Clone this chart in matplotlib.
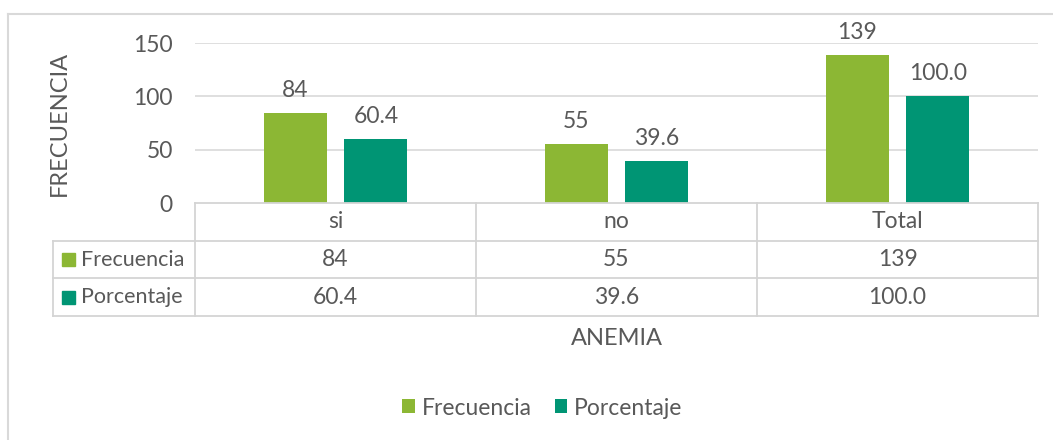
import matplotlib
matplotlib.use("Agg")
import matplotlib.pyplot as plt
from matplotlib.patches import Patch, Rectangle
from matplotlib.lines import Line2D

# ---- data ----
categories = ["si", "no", "Total"]
series_names = ["Frecuencia", "Porcentaje"]
frecuencia = [84, 55, 139]
porcentaje = [60.4, 39.6, 100.0]
frecuencia_labels = ["84", "55", "139"]
porcentaje_labels = ["60.4", "39.6", "100.0"]
y_ticks = [0, 50, 100, 150]
x_title = "ANEMIA"
y_title = "FRECUENCIA"

colors = ["#8CB734", "#009574"]
text_color = "#595959"
grid_color = "#d9d9d9"
line_color = "#d4d4d4"

plt.rcParams["font.family"] = ["Lato", "DejaVu Sans"]
FS = 16.5
FT = 17

W, H = 1053, 440
fig = plt.figure(figsize=(W / 100, H / 100), dpi=100)

def fx(px):
    return px / W

def fy(py):
    return 1 - py / H

# main plot axes (pixel layout)
left, right, top, zero = 195, 1038, 43, 203
ax = fig.add_axes([fx(left), fy(zero), fx(right - left), (zero - top) / H])
ax.set_xlim(-0.5, len(categories) - 0.5)
ax.set_ylim(0, 150)
for s in ax.spines.values():
    s.set_visible(False)
ax.set_xticks([])
ax.set_yticks(y_ticks)
ax.set_yticklabels([str(t) for t in y_ticks])
ax.tick_params(axis="y", length=0, pad=16, labelsize=FS, labelcolor=text_color)
for t in y_ticks[1:]:
    ax.axhline(t, color=grid_color, lw=1.2, zorder=0)

bw = 0.224
offs = [-0.144, 0.144]
xs = list(range(len(categories)))
for vals, labs, off, col in zip([frecuencia, porcentaje],
                                [frecuencia_labels, porcentaje_labels], offs, colors):
    bars = ax.bar([x + off for x in xs], vals, width=bw, color=col, zorder=2)
    for b, lab in zip(bars, labs):
        ax.annotate(lab, (b.get_x() + b.get_width() / 2, b.get_height()),
                    xytext=(0, 11.5), textcoords="offset points",
                    ha="center", va="baseline", fontsize=FS, color=text_color,
                    annotation_clip=False)

# ---- data table ----
tab_left, tab_bottom = 53, 316
cat_px = (right - left) / len(categories)
tx0 = -0.5 - (left - tab_left) / cat_px
tax = fig.add_axes([fx(tab_left), fy(tab_bottom), fx(right - tab_left), (tab_bottom - zero) / H])
tax.set_xlim(tx0, len(categories) - 0.5)
tax.set_ylim(3, 0)
tax.axis("off")
lw = 1.3
n = len(categories)
tax.plot([-0.5, n - 0.5], [0, 0], color=line_color, lw=lw, clip_on=False)
for yy in [1, 2, 3]:
    tax.plot([tx0, n - 0.5], [yy, yy], color=line_color, lw=lw, clip_on=False)
for xv in [i - 0.5 for i in range(n + 1)]:
    tax.plot([xv, xv], [0, 3], color=line_color, lw=lw, clip_on=False)
tax.plot([tx0, tx0], [1, 3], color=line_color, lw=lw, clip_on=False)

for i, c in enumerate(categories):
    tax.text(i, 0.5, c, ha="center", va="center", fontsize=FS, color=text_color)
for r, labs in enumerate([frecuencia_labels, porcentaje_labels], start=1):
    for i, lab in enumerate(labs):
        tax.text(i, r + 0.5, lab, ha="center", va="center", fontsize=FS, color=text_color)

sq = 13 / cat_px
row_h_px = (tab_bottom - zero) / 3
for r, (name, col) in enumerate(zip(series_names, colors), start=1):
    kx = tx0 + 9 / cat_px
    h = 13 / row_h_px
    tax.add_patch(Rectangle((kx, r + 0.5 - h / 2), sq, h, color=col, clip_on=False))
    tax.text(tx0 + 28 / cat_px, r + 0.5, name, ha="left", va="center",
             fontsize=15.5, color=text_color)

# axis titles
fig.text(fx(59), fy(123), y_title, rotation=90, ha="center", va="center",
         fontsize=FT, color=text_color)
fig.text(fx(616.5), fy(338), x_title, ha="center", va="center",
         fontsize=FT, color=text_color)

# legend
handles = [Patch(facecolor=c, edgecolor="none") for c in colors]
leg = fig.legend(handles, series_names, loc="center",
                 bbox_to_anchor=(fx(542.5), fy(408)), ncol=2, frameon=False,
                 fontsize=FS, handlelength=0.55, handleheight=0.55,
                 handletextpad=0.3, columnspacing=1.0, labelcolor=text_color)

# chart frame (left and top visible)
fig.add_artist(Line2D([fx(8), fx(8)], [fy(14), 0], color=grid_color, lw=1.5))
fig.add_artist(Line2D([fx(8), 1], [fy(14), fy(14)], color=grid_color, lw=1.5))

fig.savefig("out.png", dpi=100)
